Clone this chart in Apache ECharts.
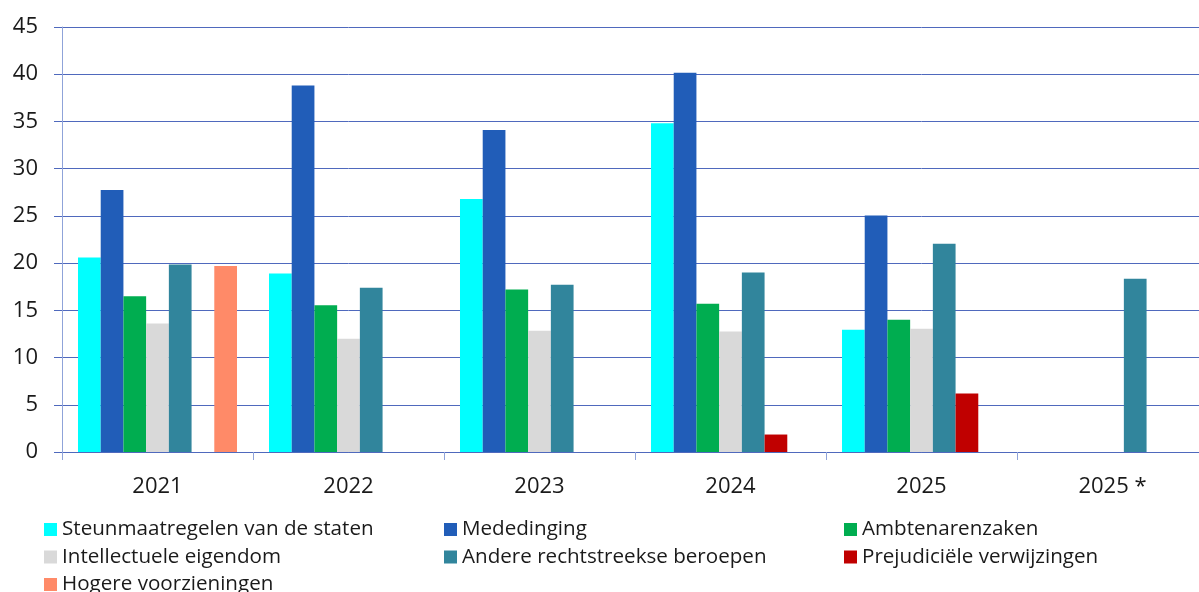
<!DOCTYPE html>
<html>
<head>
<meta charset="utf-8">
<script src="https://cdn.jsdelivr.net/npm/echarts@6/dist/echarts.min.js"></script>
<style>html,body{margin:0;padding:0;background:#fff;overflow:hidden}#c{width:1208px;height:592px}</style>
</head>
<body>
<div id="c"></div>
<script>
const categories = ['2021', '2022', '2023', '2024', '2025', '2025 *'];
const yTicks = [0, 5, 10, 15, 20, 25, 30, 35, 40, 45];

const steunmaatregelen = [20.6, 18.9, 26.8, 34.8, 12.95, null];
const mededinging      = [27.75, 38.8, 34.1, 40.15, 25.05, null];
const ambtenarenzaken  = [16.5, 15.55, 17.2, 15.7, 14.0, null];
const intellectuele    = [13.6, 12.0, 12.85, 12.75, 13.05, null];
const andere           = [19.85, 17.4, 17.7, 19.0, 22.05, 18.35];
const prejudiciele     = [null, null, null, 1.85, 6.2, null];
const hogere           = [19.7, null, null, null, null, null];

const names = [
  'Steunmaatregelen van de staten', 'Mededinging', 'Ambtenarenzaken',
  'Intellectuele eigendom', 'Andere rechtstreekse beroepen',
  'Prejudiciële verwijzingen', 'Hogere voorzieningen'
];
const colors = ['#00FFFF', '#215DB8', '#00AD50', '#D9D9D9', '#31859C', '#C00000', '#FF8A68'];
const values = [steunmaatregelen, mededinging, ambtenarenzaken, intellectuele, andere, prejudiciele, hogere];

const FONT = '"Open Sans", "Noto Sans", sans-serif';
const gridColor = '#4F69BD';
const lightColor = '#8FA3D9';

const legendBase = {
  orient: 'vertical', top: 519, height: 90, icon: 'rect', itemWidth: 13, itemHeight: 13,
  itemGap: 6.5, selectedMode: false, padding: 0,
  textStyle: { fontFamily: FONT, fontSize: 20.6, color: '#1a1a1a', lineHeight: 20 }
};

const chart = echarts.init(document.getElementById('c'), null, { renderer: 'canvas' });
chart.setOption({
  animation: false,
  color: colors,
  grid: { left: 62, top: 27, right: 0, bottom: 140, containLabel: false },
  legend: [
    Object.assign({}, legendBase, { left: 44, data: [names[0], names[3], names[6]] }),
    Object.assign({}, legendBase, { left: 444, data: [names[1], names[4]] }),
    Object.assign({}, legendBase, { left: 844, data: [names[2], names[5]] })
  ],
  xAxis: {
    type: 'category', data: categories,
    axisLine: { lineStyle: { color: gridColor, width: 1 } },
    axisTick: { show: true, length: 8, lineStyle: { color: lightColor } },
    axisLabel: { fontFamily: FONT, fontSize: 22, color: '#1a1a1a', margin: 24 }
  },
  yAxis: {
    type: 'value', min: 0, max: 45, interval: 5,
    axisLine: { show: true, lineStyle: { color: lightColor } },
    axisTick: { show: true, length: 8, lineStyle: { color: gridColor } },
    splitLine: { lineStyle: { color: gridColor, width: 1 } },
    axisLabel: { fontFamily: FONT, fontSize: 22, color: '#1a1a1a', margin: 24,
      formatter: v => yTicks.includes(v) ? String(v) : '' }
  },
  series: names.map((n, i) => ({
    name: n, type: 'bar', data: values[i],
    barGap: '0%', barCategoryGap: '16.75%',
    itemStyle: { color: colors[i] }
  }))
});
</script>
</body>
</html>
